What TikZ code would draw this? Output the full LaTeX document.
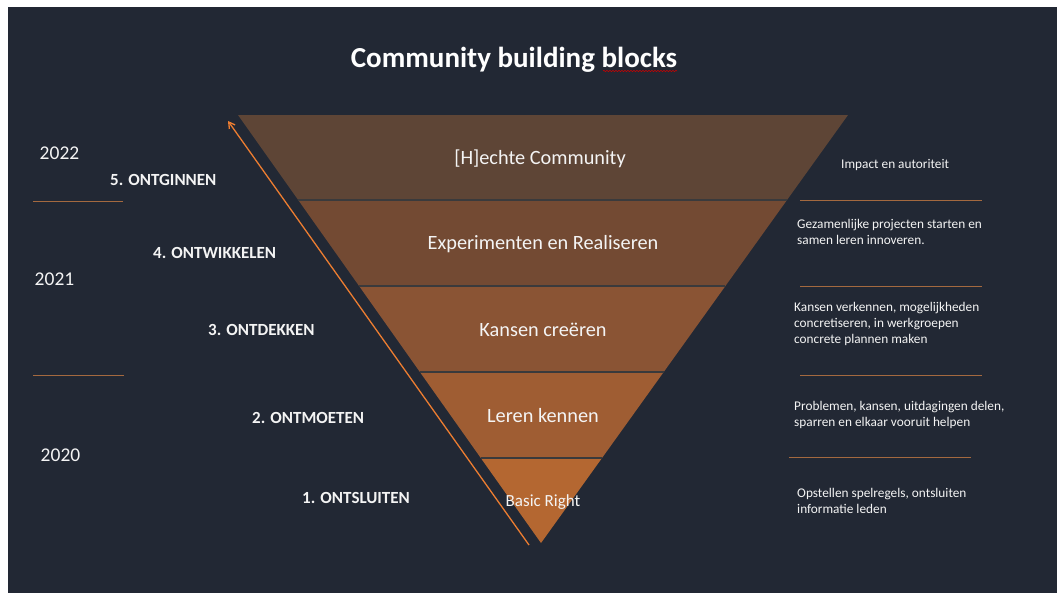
\documentclass[tikz,border=0pt]{standalone}
\usepackage{fontspec}
\setmainfont{Carlito}
\usetikzlibrary{arrows.meta,decorations.pathmorphing}
\definecolor{bg}{HTML}{222834}
\definecolor{bandA}{HTML}{5E4536}
\definecolor{bandB}{HTML}{734A33}
\definecolor{bandC}{HTML}{8A5434}
\definecolor{bandD}{HTML}{9F5D33}
\definecolor{bandE}{HTML}{B46731}
\definecolor{divider}{HTML}{3A3A3C}
\definecolor{sepline}{HTML}{A4693F}
\definecolor{arroworange}{HTML}{ED7D31}
\definecolor{txt}{HTML}{F4F4F4}
\tikzset{
  year/.style={text=txt, font=\fontsize{19.5}{22}\selectfont, inner sep=0pt},
  phase/.style={text=txt, font=\fontsize{17}{20}\selectfont\bfseries, inner sep=0pt},
  bandlabel/.style={text=txt, font=\fontsize{20.3}{24}\selectfont, inner sep=0pt},
  desc/.style={text=txt, font=\fontsize{13.3}{16}\selectfont, align=left, inner sep=0pt, anchor=north west},
  sep/.style={draw=sepline, line width=1.3pt},
  bandline/.style={draw=divider, line width=1.2pt},
}
\begin{document}
\begin{tikzpicture}[x=1pt,y=-1pt]
\useasboundingbox (0,0) rectangle (1057,595);
\fill[white] (0,0) rectangle (1057,595);
\fill[bg] (8,7) rectangle (1057,593);

% title
\node[text=white, font=\fontsize{29}{34}\selectfont\bfseries, inner sep=0pt] (title) at (514,60) {Community building blocks};
\draw[red!80!black, line width=0.6pt, decorate, decoration={snake, amplitude=0.6pt, segment length=3pt}] (603,71) -- (677,71);

% triangle bands
\fill[bandA] (238,115) -- (848,115) -- (787.0,200) -- (298.2,200) -- cycle;
\fill[bandB] (298.2,200) -- (787.0,200) -- (725.4,286) -- (359.1,286) -- cycle;
\fill[bandC] (359.1,286) -- (725.4,286) -- (663.7,372) -- (419.9,372) -- cycle;
\fill[bandD] (419.9,372) -- (663.7,372) -- (602.0,458) -- (480.8,458) -- cycle;
\fill[bandE] (480.8,458) -- (602.0,458) -- (541,543) -- cycle;
\draw[bandline] (298.2,200) -- (787.0,200);
\draw[bandline] (359.1,286) -- (725.4,286);
\draw[bandline] (419.9,372) -- (663.7,372);
\draw[bandline] (480.8,458) -- (602.0,458);

% band labels
\node[bandlabel] (b5) at (540,158.5) {[H]echte Community};
\node[bandlabel] (b4) at (543,244.5) {Experimenten en Realiseren};
\node[bandlabel] (b3) at (543,330) {Kansen creëren};
\node[bandlabel] (b2) at (543,415.5) {Leren kennen};
\node[bandlabel, font=\fontsize{17}{20}\selectfont] (b1) at (543,502) {Basic Right};

% arrow
\coordinate (astart) at (529,545);
\coordinate (aend) at (228,121);
\draw[arroworange, line width=1.3pt, -{Straight Barb[length=6pt,width=7pt]}] (astart) -- (aend);

% years
\node[year] (y22) at (59.5,153) {2022};
\node[year] (y21) at (54.5,279) {2021};
\node[year] (y20) at (60.5,455) {2020};
\draw[sep] (33,201.5) -- (123,201.5);
\draw[sep] (33,375.5) -- (124,375.5);

% phases
\node[phase, anchor=west] (p5) at (110,179.5) {5. ONTGINNEN};
\node[phase, anchor=west] (p4) at (153,252.5) {4. ONTWIKKELEN};
\node[phase, anchor=west] (p3) at (208,329.5) {3. ONTDEKKEN};
\node[phase, anchor=west] (p2) at (252,417.5) {2. ONTMOETEN};
\node[phase, anchor=west] (p1) at (302,497.5) {1. ONTSLUITEN};

% descriptions
\node[desc] (d5) at (841,159.5) {Impact en autoriteit};
\node[desc] (d4) at (797,219.5) {Gezamenlijke projecten starten en\\samen leren innoveren.};
\node[desc] (d3) at (794,302.5) {Kansen verkennen, mogelijkheden\\concretiseren, in werkgroepen\\concrete plannen maken};
\node[desc] (d2) at (794,401.5) {Problemen, kansen, uitdagingen delen,\\sparren en elkaar vooruit helpen};
\node[desc] (d1) at (797,488.5) {Opstellen spelregels, ontsluiten\\informatie leden};
\draw[sep] (800,200.5) -- (982,200.5);
\draw[sep] (800,286.5) -- (982,286.5);
\draw[sep] (800,375.5) -- (982,375.5);
\draw[sep] (789,457.5) -- (971,457.5);
\end{tikzpicture}
\end{document}
